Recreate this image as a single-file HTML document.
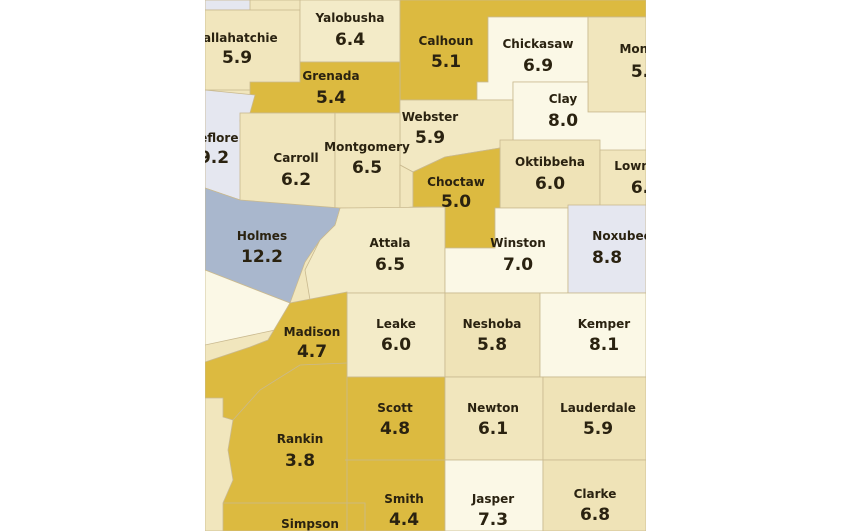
<!DOCTYPE html>
<html><head><meta charset="utf-8"><style>
html,body{margin:0;padding:0;background:#fff;width:850px;height:531px;overflow:hidden}
svg{position:absolute;left:0;top:0}
text{font-family:"DejaVu Sans","Liberation Sans",sans-serif;fill:#2a2210;text-anchor:middle}
.n{font-size:12px;font-weight:bold}
.v{font-size:17px;font-weight:bold}
</style></head><body>
<svg width="850" height="531" viewBox="0 0 850 531">
<defs><clipPath id="c"><rect x="205" y="0" width="441" height="531"/></clipPath></defs>
<g clip-path="url(#c)" stroke="#c9b98f" stroke-width="0.8">
<rect x="205" y="0" width="441" height="531" fill="#f1e6bd"/>
<rect x="205" y="0" width="45" height="10" fill="#e5e7f0"/>
<rect x="205" y="10" width="95" height="80" fill="#f1e6bd"/>
<rect x="300" y="0" width="100" height="62" fill="#f3ebc8"/>
<polygon points="400,0 646,0 646,17 488,17 488,82 477,82 477,100 400,100" fill="#dcba40"/>
<polygon points="488,17 588,17 588,82 513,82 513,100 477,100 477,82 488,82" fill="#fbf8e6"/>
<rect x="588" y="17" width="58" height="95" fill="#f1e6bd"/>
<polygon points="513,82 588,82 588,112 646,112 646,150 600,153 500,148 513,140" fill="#fbf8e6"/>
<polygon points="250,82 300,82 300,62 400,62 400,113 250,113" fill="#dcba40"/>
<polygon points="400,100 513,100 513,140 500,148 445,157 413,172 400,165" fill="#f2e8c2"/>
<polygon points="205,90 255,95 250,113 240,120 250,190 240,200 205,188" fill="#e5e7f0"/>
<rect x="240" y="113" width="95" height="95" fill="#f1e6bd"/>
<rect x="335" y="113" width="65" height="95" fill="#f1e6bd"/>
<polygon points="400,165 413,172 413,207 400,208" fill="#f1e6bd"/>
<rect x="500" y="140" width="100" height="68" fill="#efe3b7"/>
<rect x="600" y="150" width="46" height="58" fill="#f1e6bd"/>
<polygon points="413,172 445,157 500,148 500,208 495,208 495,248 445,248 445,207 413,207" fill="#dcba40"/>
<polygon points="340,208 445,207 445,293 347,293 310,300 305,270 320,240 335,225" fill="#f3ebc8"/>
<polygon points="445,248 495,248 495,208 568,208 568,293 445,293" fill="#fbf8e6"/>
<rect x="568" y="205" width="78" height="88" fill="#e5e7f0"/>
<polygon points="205,188 240,200 340,208 335,225 320,240 305,262 290,303 205,270" fill="#a9b7cd"/>
<polygon points="205,270 290,303 275,330 205,345" fill="#fbf8e6"/>
<rect x="347" y="293" width="98" height="84" fill="#f3ebc8"/>
<rect x="445" y="293" width="95" height="84" fill="#efe3b7"/>
<rect x="540" y="293" width="106" height="84" fill="#fbf8e6"/>
<polygon points="205,362 250,347 268,340 290,303 347,292 347,377 445,377 445,531 223,531 223,503 233,480 228,450 233,420 223,417 223,398 205,398" fill="#dcba40"/>
<rect x="445" y="377" width="98" height="83" fill="#f1e6bd"/>
<rect x="543" y="377" width="103" height="83" fill="#efe3b7"/>
<rect x="445" y="460" width="98" height="71" fill="#fbf8e6"/>
<rect x="543" y="460" width="103" height="71" fill="#efe3b7"/>
<polyline points="347,377 347,531" fill="none"/>
<polyline points="345,460 445,460" fill="none"/>
<polyline points="223,503 365,503 365,531" fill="none"/>
<polyline points="233,420 260,390 300,365 347,363" fill="none"/>
</g>
<g>
<text class="n" x="237" y="42">Tallahatchie</text><text class="v" x="237" y="63">5.9</text>
<text class="n" x="350" y="22">Yalobusha</text><text class="v" x="350" y="45">6.4</text>
<text class="n" x="446" y="45">Calhoun</text><text class="v" x="446" y="67">5.1</text>
<text class="n" x="538" y="48">Chickasaw</text><text class="v" x="538" y="71">6.9</text>
<text class="n" x="331" y="80">Grenada</text><text class="v" x="331" y="103">5.4</text>
<text class="n" x="563" y="103">Clay</text><text class="v" x="563" y="126">8.0</text>
<text class="n" x="430" y="121">Webster</text><text class="v" x="430" y="143">5.9</text>
<text class="n" x="296" y="162">Carroll</text><text class="v" x="296" y="185">6.2</text>
<text class="n" x="367" y="151">Montgomery</text><text class="v" x="367" y="173">6.5</text>
<text class="n" x="550" y="166">Oktibbeha</text><text class="v" x="550" y="189">6.0</text>
<text class="n" x="456" y="186">Choctaw</text><text class="v" x="456" y="207">5.0</text>
<text class="n" x="262" y="240">Holmes</text><text class="v" x="262" y="262">12.2</text>
<text class="n" x="390" y="247">Attala</text><text class="v" x="390" y="270">6.5</text>
<text class="n" x="518" y="247">Winston</text><text class="v" x="518" y="270">7.0</text>
<text class="n" x="312" y="336">Madison</text><text class="v" x="312" y="357">4.7</text>
<text class="n" x="396" y="328">Leake</text><text class="v" x="396" y="350">6.0</text>
<text class="n" x="492" y="328">Neshoba</text><text class="v" x="492" y="350">5.8</text>
<text class="n" x="604" y="328">Kemper</text><text class="v" x="604" y="350">8.1</text>
<text class="n" x="395" y="412">Scott</text><text class="v" x="395" y="434">4.8</text>
<text class="n" x="493" y="412">Newton</text><text class="v" x="493" y="434">6.1</text>
<text class="n" x="598" y="412">Lauderdale</text><text class="v" x="598" y="434">5.9</text>
<text class="n" x="300" y="443">Rankin</text><text class="v" x="300" y="466">3.8</text>
<text class="n" x="404" y="503">Smith</text><text class="v" x="404" y="525">4.4</text>
<text class="n" x="493" y="503">Jasper</text><text class="v" x="493" y="525">7.3</text>
<text class="n" x="595" y="498">Clarke</text><text class="v" x="595" y="520">6.8</text>
<text class="n" x="310" y="528">Simpson</text>
</g>
<g clip-path="url(#c)">
<text class="n" x="215" y="142">Leflore</text><text class="v" x="214" y="163">9.2</text>
<text class="n" x="645" y="53">Monroe</text><text class="v" x="640" y="77">5.</text>
<text class="n" x="644" y="170">Lowndes</text><text class="v" x="640" y="193">6.</text>
<text class="n" x="622" y="240">Noxubee</text><text class="v" x="607" y="263">8.8</text>
</g>
<rect x="0" y="0" width="205" height="531" fill="#fff"/>
<rect x="646" y="0" width="204" height="531" fill="#fff"/>
</svg>
</body></html>
